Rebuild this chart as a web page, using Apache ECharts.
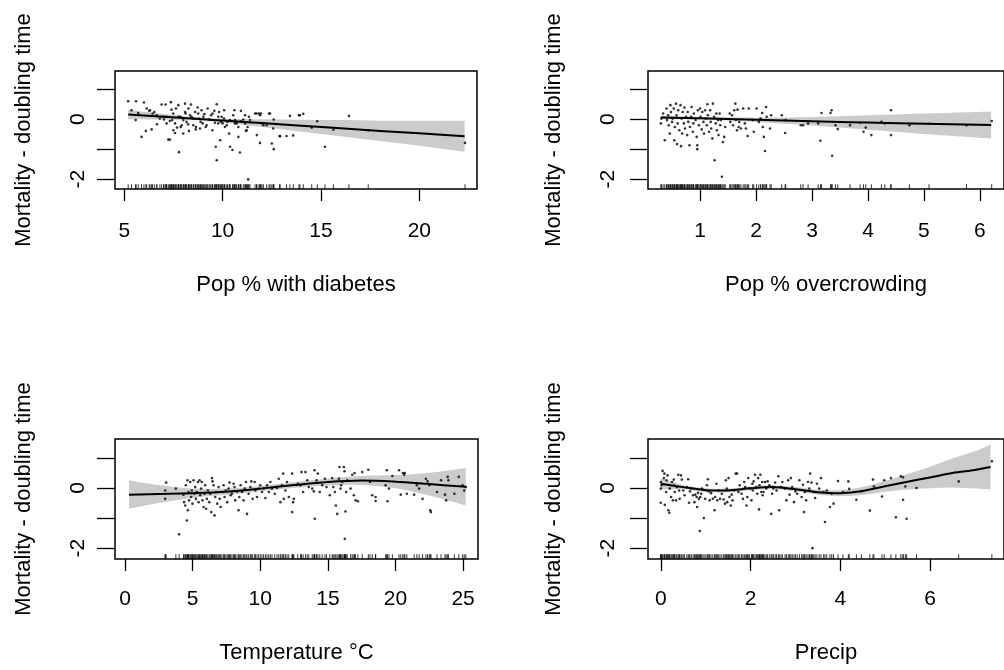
<!DOCTYPE html>
<html><head><meta charset="utf-8">
<script src="https://cdn.jsdelivr.net/npm/echarts@6/dist/echarts.min.js"></script>
<style>html,body{margin:0;padding:0;background:#fff}#c{width:1004px;height:670px}</style>
</head><body><div id="c"></div>
<script>
// ---------- text ----------
const yTitle = 'Mortality - doubling time';
const xTitles = ['Pop % with diabetes', 'Pop % overcrowding', 'Temperature °C', 'Precip'];

// ---------- axes ----------
const xRanges = [[4.53, 22.93], [0.07, 6.43], [-0.74, 26.1], [-0.285, 7.65]];
const yRanges = [[-2.33, 1.61], [-2.33, 1.61], [-2.36, 1.63], [-2.36, 1.63]];
const xTicks = [[5, 10, 15, 20], [1, 2, 3, 4, 5, 6], [0, 5, 10, 15, 20, 25], [0, 2, 4, 6]];
const yTicks = [-2, -1, 0, 1];
const yTickLabels = [-2, 0];

// ---------- partial residuals (x, y) ----------
const diabetesPts = [[5.2,0.6],[5.6,0.6],[6.0,0.56],[5.37,0.3],[5.58,-0.03],[5.88,-0.59],[6.1,-0.39],[6.14,0.36],[6.27,0.28],[6.39,-0.34],[6.53,0.24],[6.66,-0.17],[6.9,0.49],[7.1,0.49],[7.0,0.08],[7.15,-0.14],[7.24,-0.68],[7.32,-0.68],[7.37,0.57],[7.4,0.32],[7.44,-0.03],[7.5,-0.37],[7.58,-0.46],[7.63,0.36],[7.68,-0.28],[7.75,0.47],[7.78,-1.1],[7.85,0.08],[7.92,-0.2],[8.0,-0.48],[8.09,0.52],[8.12,0.19],[8.17,-0.09],[8.26,0.36],[8.29,-0.39],[8.39,0.49],[8.42,0.08],[8.51,-0.2],[8.6,0.24],[8.63,-0.34],[8.73,0.39],[8.8,0.02],[8.85,-0.31],[8.93,0.3],[8.99,-0.14],[9.07,0.17],[9.14,-0.26],[9.24,0.36],[9.31,-0.01],[9.41,0.13],[9.48,-0.37],[9.58,0.28],[9.65,-0.92],[9.7,0.5],[9.7,-1.37],[9.78,-0.14],[9.82,0.24],[9.88,-0.7],[9.95,0.08],[10.0,-0.14],[10.08,0.3],[10.12,-0.26],[10.25,-0.09],[10.33,-0.48],[10.38,-0.92],[10.5,-1.03],[10.6,0.3],[10.63,-0.03],[10.71,-0.14],[10.8,-0.59],[10.88,-1.11],[10.93,0.28],[11.05,-0.01],[11.14,0.13],[11.19,-0.39],[11.27,-0.26],[11.3,-2.01],[11.34,0.08],[11.65,0.19],[11.74,-0.53],[11.85,0.19],[11.95,0.19],[12.0,-0.14],[11.9,-0.79],[12.24,-0.2],[12.36,0.19],[12.5,-0.81],[12.6,-1.0],[12.6,-0.01],[12.9,-0.56],[13.25,-0.56],[13.42,0.11],[13.59,-0.54],[13.88,0.13],[14.1,0.18],[14.53,-0.28],[14.81,-0.07],[15.2,-0.92],[15.63,-0.35],[16.42,0.11],[17.4,-0.37],[22.32,-0.79],
[5.71,0.21],[6.31,0.3],[6.44,0.19],[6.65,0.13],[6.81,0.02],[7.02,-0.01],[7.16,0.08],[7.32,-0.06],[7.49,0.19],[7.58,-0.14],[7.75,0.08],[7.87,-0.26],[8.0,-0.03],[8.09,0.24],[8.25,-0.17],[8.34,0.13],[8.51,0.02],[8.65,-0.26],[8.76,0.19],[8.88,-0.09],[9.02,0.08],[9.19,-0.2],[9.36,-0.01],[9.49,0.19],[9.61,-0.12],[9.78,0.08],[9.92,-0.09],[10.07,0.02],[10.21,-0.2],[10.37,-0.03],[10.54,0.13],[10.63,-0.14],[10.8,-0.26],[10.92,-0.07],[11.14,-0.14],[11.22,-0.37],[11.39,-0.03],[11.73,0.19],[11.9,0.13],[12.07,-0.2],[12.41,0.19],[12.57,-0.31],[12.92,-0.57],[13.93,0.13]];

const crowdPts = [[0.3,-0.14],[0.31,0.02],[0.34,0.19],[0.37,-0.7],[0.4,0.36],[0.41,-0.03],[0.43,0.13],[0.44,-0.2],[0.46,-0.48],[0.47,0.47],[0.48,0.24],[0.5,-0.09],[0.51,0.02],[0.53,0.36],[0.54,-0.7],[0.55,-0.26],[0.57,0.52],[0.58,0.13],[0.59,-0.83],[0.6,-0.14],[0.61,0.3],[0.63,-0.37],[0.65,0.47],[0.66,-0.9],[0.67,0.02],[0.68,-0.48],[0.69,0.24],[0.71,-0.14],[0.72,0.39],[0.73,-0.31],[0.75,0.08],[0.77,-0.53],[0.78,0.24],[0.79,-0.09],[0.81,-0.87],[0.82,-0.26],[0.84,0.08],[0.85,0.41],[0.87,-0.42],[0.88,-0.14],[0.89,0.19],[0.92,-0.03],[0.94,-0.59],[0.95,-0.87],[0.95,-1.0],[0.96,0.3],[0.98,-0.2],[1.0,0.36],[1.01,0.08],[1.03,-0.34],[1.04,0.24],[1.06,-0.09],[1.07,-0.48],[1.09,0.3],[1.1,0.02],[1.12,-0.2],[1.13,0.5],[1.14,0.13],[1.16,-0.42],[1.18,0.3],[1.19,-0.09],[1.2,-0.31],[1.22,-0.64],[1.23,0.52],[1.25,0.08],[1.26,-1.37],[1.28,-0.14],[1.29,0.19],[1.3,-0.37],[1.32,-0.03],[1.33,-0.53],[1.35,0.19],[1.36,-0.2],[1.37,-0.03],[1.39,-1.92],[1.41,-0.76],[1.43,-0.59],[1.45,-0.26],[1.53,0.19],[1.54,-0.09],[1.57,0.13],[1.59,-0.2],[1.61,0.3],[1.63,0.52],[1.64,-0.03],[1.66,-0.37],[1.67,0.32],[1.69,-0.26],[1.7,-0.09],[1.73,-0.31],[1.77,0.36],[1.8,-0.14],[1.82,-0.31],[1.85,-0.56],[1.87,0.36],[1.94,-0.03],[1.96,-0.42],[2.01,0.36],[2.05,-0.09],[2.08,0.02],[2.11,0.21],[2.12,-0.26],[2.14,-0.59],[2.16,-1.06],[2.18,0.41],[2.19,0.08],[2.25,-0.31],[2.27,0.13],[2.46,0.13],[2.52,-0.46],[2.53,-0.03],[2.8,-0.2],[2.84,-0.2],[2.93,-0.14],[3.11,-0.14],[3.15,-0.72],[3.17,0.21],[3.33,0.21],[3.35,0.3],[3.36,-1.22],[3.42,-0.2],[3.46,-0.33],[3.68,-0.2],[3.86,-0.12],[3.92,-0.42],[3.96,-0.28],[4.06,-0.53],[4.24,-0.09],[4.3,-0.14],[4.41,0.3],[4.41,-0.53],[4.74,-0.2],[5.09,-0.15],[5.76,-0.2],[6.21,-0.06]];

const tempPts = [[2.97,-0.08],[2.97,-0.36],[3.04,0.18],[3.76,-0.02],[4.0,-1.54],[4.32,-0.22],[4.37,-0.47],[4.45,-0.58],[4.5,0.09],[4.57,-1.08],[4.62,0.26],[4.65,-0.74],[4.69,-0.13],[4.74,-0.41],[4.82,0.2],[4.89,-0.3],[4.94,-0.08],[4.99,-0.52],[5.07,0.26],[5.12,-0.19],[5.19,0.03],[5.24,-0.36],[5.31,-0.13],[5.39,0.2],[5.44,-0.47],[5.51,0.26],[5.56,-0.24],[5.63,-0.02],[5.68,0.2],[5.73,-0.41],[5.81,-0.63],[5.88,-0.19],[5.93,0.09],[6.0,-0.69],[6.05,-0.36],[6.13,-0.08],[6.23,-0.47],[6.3,-0.19],[6.38,-0.8],[6.42,0.33],[6.47,0.22],[6.55,0.09],[6.62,-0.91],[6.67,-0.3],[6.75,-0.13],[6.82,-0.52],[6.92,0.03],[7.0,-0.36],[7.07,-0.63],[7.17,-0.13],[7.29,0.09],[7.36,-0.3],[7.46,-0.08],[7.56,-0.47],[7.66,-0.02],[7.73,0.18],[7.81,-0.24],[7.91,-0.19],[8.03,0.14],[8.1,0.03],[8.15,-0.41],[8.28,-0.13],[8.4,-0.74],[8.45,-0.3],[8.55,0.09],[8.65,-0.13],[8.77,-0.41],[8.85,-0.02],[8.95,0.2],[9.02,-0.86],[9.14,-0.19],[9.27,0.03],[9.34,0.22],[9.44,-0.36],[9.59,0.2],[9.64,-0.08],[9.76,-0.3],[9.88,-0.02],[10.0,0.09],[10.13,-0.13],[10.25,-0.02],[10.38,-0.33],[10.5,0.09],[10.63,-0.13],[10.75,0.2],[10.87,-0.02],[11.07,-0.19],[11.24,0.0],[11.37,0.31],[11.49,-0.47],[11.61,0.09],[11.69,0.48],[11.74,-0.36],[11.86,-0.08],[11.98,0.2],[12.11,-0.3],[12.36,-0.8],
[12.36,0.48],[12.43,-0.47],[12.48,-0.36],[12.77,0.14],[12.97,0.09],[13.05,0.53],[13.17,-0.13],[13.34,0.53],[13.47,0.26],[13.59,0.03],[13.84,-0.02],[13.96,-0.11],[14.01,0.59],[14.04,-1.02],[14.16,0.26],[14.26,0.48],[14.4,-0.13],[14.58,0.09],[14.78,0.31],[14.9,0.03],[15.14,-0.24],[15.32,0.33],[15.4,0.03],[15.52,-0.13],[15.59,-0.58],[15.69,-0.86],[15.81,0.31],[15.86,0.7],[15.93,-0.02],[15.98,0.09],[16.06,0.2],[16.18,0.7],[16.23,0.56],[16.25,-1.69],[16.3,-0.78],[16.35,-0.13],[16.43,0.26],[16.68,-0.02],[16.8,0.44],[16.92,-0.24],[16.97,0.5],[17.05,-0.41],[17.22,-0.44],[17.54,0.53],[17.99,0.61],[18.11,0.2],[18.28,-0.24],[18.53,-0.3],[18.53,-0.43],[19.27,0.09],[19.35,0.59],[19.4,-0.44],[19.52,-0.02],[19.77,0.4],[20.26,0.59],[20.39,-0.22],[20.54,0.5],[20.64,0.44],[20.69,0.5],[20.84,-0.19],[21.38,-0.22],[21.58,0.09],[21.75,-0.02],[22.0,-0.36],[22.25,0.31],[22.37,0.22],[22.5,0.09],[22.57,-0.74],[22.62,-0.8],[23.07,-0.13],[23.37,0.26],[23.66,-0.22],[23.74,-0.41],[23.86,0.37],[23.91,0.26],[24.35,-0.19],[24.68,0.37],[24.96,0.09],[25.08,-0.08],[25.2,0.03]];

const precipPts = [[0.0,0.2],[0.0,-0.02],[0.0,-0.49],[0.02,0.09],[0.04,0.57],[0.07,0.33],[0.08,0.48],[0.09,-0.56],[0.12,-0.13],[0.13,0.26],[0.15,0.42],[0.17,-0.74],[0.19,-0.82],[0.2,-0.02],[0.23,-0.3],[0.25,0.2],[0.27,-0.41],[0.29,0.28],[0.3,0.09],[0.31,-0.13],[0.34,-0.41],[0.36,0.03],[0.39,0.44],[0.41,-0.08],[0.42,-0.36],[0.45,0.42],[0.47,0.28],[0.5,-0.08],[0.53,-0.24],[0.58,0.03],[0.61,0.29],[0.63,-0.49],[0.65,-0.11],[0.68,-0.02],[0.72,-0.24],[0.75,-0.47],[0.77,-0.22],[0.8,-0.3],[0.81,-0.63],[0.83,-0.16],[0.85,-0.36],[0.87,-1.43],[0.88,-0.3],[0.9,-0.19],[0.92,-0.02],[0.96,-1.0],[0.99,-0.36],[1.03,0.09],[1.05,0.29],[1.07,-0.11],[1.09,-0.41],[1.12,-0.17],[1.16,-0.36],[1.2,-0.74],[1.21,-0.3],[1.24,0.14],[1.26,-0.41],[1.29,-0.08],[1.32,-0.36],[1.36,-0.19],[1.4,-0.38],[1.43,-0.52],[1.45,0.26],[1.47,-0.02],[1.48,-0.47],[1.51,0.33],[1.53,-0.3],[1.56,-0.58],[1.58,-0.22],[1.6,-0.41],[1.63,-0.08],[1.67,0.48],[1.7,0.48],[1.73,-0.13],[1.76,0.09],[1.8,-0.19],[1.83,-0.36],[1.86,0.2],[1.88,0.03],[1.91,-0.58],[1.93,-0.3],[1.95,0.33],[1.98,-0.02],[2.02,-0.41],[2.04,0.14],[2.05,-0.08],[2.07,0.22],[2.1,0.44],[2.13,0.03],[2.15,-0.19],[2.17,0.33],[2.19,-0.71],[2.2,0.09],[2.22,0.44],[2.24,-0.13],[2.26,0.2],[2.27,-0.24],[2.29,-0.13],[2.32,0.2],[2.35,-0.02],[2.38,0.22],[2.42,0.09],[2.46,-0.86],[2.48,-0.19],[2.51,-0.02],[2.55,0.18],[2.58,-0.08],[2.62,0.39],[2.64,-0.74],[2.68,0.03],[2.71,0.2],[2.77,-0.02],[2.8,-0.41],[2.84,0.26],[2.87,-0.22],[2.9,0.33],[2.93,0.03],[2.97,-0.47],[3.0,-0.11],[3.04,-0.19],[3.09,0.26],[3.14,-0.3],[3.17,0.11],[3.19,-0.8],[3.21,-0.13],[3.24,-0.41],[3.28,0.2],[3.31,-0.02],[3.33,0.48],[3.36,0.18],[3.38,-2.0],[3.41,-0.13],[3.44,-0.33],[3.48,0.14],[3.53,-0.02],[3.57,0.33],[3.63,-0.13],[3.66,-1.13],[3.7,-0.08],[3.77,-0.63],[3.81,-0.19],[3.85,-0.52],[3.95,0.23],[4.06,-0.13],[4.18,0.22],[4.2,-0.03],[4.36,-0.39],[4.47,-0.11],[4.66,-0.75],[4.73,0.28],[4.75,0.05],[4.93,-0.28],[4.98,0.26],[5.13,0.33],[5.24,-0.97],[5.35,0.39],[5.4,0.36],[5.4,-0.39],[5.45,0.05],[5.48,-1.02],[5.7,0.0],[6.64,0.22],[7.38,0.89]];

// ---------- smooth fits and standard errors ----------
const diabetesFitX = [5.2, 7, 9, 10, 12, 14, 16, 18, 20, 22.3];
const diabetesFit  = [0.16, 0.083, -0.002, -0.045, -0.13, -0.216, -0.30, -0.39, -0.47, -0.57];
const diabetesSE   = [0.16, 0.094, 0.05, 0.064, 0.13, 0.2, 0.27, 0.34, 0.42, 0.52];

const crowdFitX = [0.3, 1, 2, 3, 4, 5, 6.2];
const crowdFit  = [0.06, 0.03, -0.02, -0.07, -0.11, -0.15, -0.19];
const crowdSE   = [0.06, 0.04, 0.07, 0.14, 0.24, 0.34, 0.45];

const tempFitX = [0.3, 2.5, 5, 7.5, 10, 12.5, 15, 17.5, 20, 22.5, 25.2];
const tempFit  = [-0.22, -0.2, -0.17, -0.12, -0.02, 0.1, 0.2, 0.25, 0.21, 0.13, 0.04];
const tempSE   = [0.47, 0.3, 0.15, 0.1, 0.09, 0.1, 0.12, 0.15, 0.22, 0.38, 0.62];

const precipFitX = [0, 0.5, 1, 1.5, 2, 2.5, 3, 3.5, 4, 4.5, 5, 5.5, 6, 6.5, 7, 7.35];
const precipFit  = [0.14, 0.03, -0.07, -0.08, -0.01, 0.03, -0.04, -0.14, -0.17, -0.1, 0.06, 0.21, 0.35, 0.5, 0.6, 0.7];
const precipSE   = [0.19, 0.07, 0.06, 0.06, 0.06, 0.06, 0.07, 0.08, 0.1, 0.13, 0.18, 0.26, 0.36, 0.48, 0.62, 0.75];

// ---------- build ----------
const panels = [
  {pts: diabetesPts, fx: diabetesFitX, fy: diabetesFit, se: diabetesSE},
  {pts: crowdPts, fx: crowdFitX, fy: crowdFit, se: crowdSE},
  {pts: tempPts, fx: tempFitX, fy: tempFit, se: tempSE},
  {pts: precipPts, fx: precipFitX, fy: precipFit, se: precipSE}
];
const FONT = 'Liberation Sans, Arial, Helvetica, sans-serif';
const grids = [
  {left: 115, top: 71, width: 362, height: 118},
  {left: 648, top: 71, width: 362, height: 118},
  {left: 115, top: 439, width: 363, height: 120},
  {left: 648, top: 439, width: 362, height: 120}
];
const xLabelMargin = [32, 32, 30, 30];
const xNameGap = [85, 85, 83, 83];
const yLabelMargin = [26, 29, 26, 29];
const yNameGap = [80, 83, 80, 83];

// Catmull-Rom curve through already-projected pixel points
function curvePath(pts, startCmd) {
  let d = startCmd + pts[0][0] + ',' + pts[0][1];
  const n = pts.length;
  for (let i = 0; i < n - 1; i++) {
    const p0 = pts[Math.max(i - 1, 0)], p1 = pts[i], p2 = pts[i + 1], p3 = pts[Math.min(i + 2, n - 1)];
    const c1 = [p1[0] + (p2[0] - p0[0]) / 6, p1[1] + (p2[1] - p0[1]) / 6];
    const c2 = [p2[0] - (p3[0] - p1[0]) / 6, p2[1] - (p3[1] - p1[1]) / 6];
    d += ' C' + c1[0] + ',' + c1[1] + ' ' + c2[0] + ',' + c2[1] + ' ' + p2[0] + ',' + p2[1];
  }
  return d;
}

const xAxes = [], yAxes = [], series = [];
panels.forEach((p, i) => {
  xAxes.push({
    type: 'value', gridIndex: i, min: xRanges[i][0], max: xRanges[i][1],
    axisLine: {show: false, onZero: false}, splitLine: {show: false},
    axisTick: {show: true, length: 12, customValues: xTicks[i], lineStyle: {color: '#000', width: 1.3}},
    axisLabel: {customValues: xTicks[i], margin: xLabelMargin[i], fontSize: 21, color: '#000', fontFamily: FONT},
    name: xTitles[i], nameLocation: 'middle', nameGap: xNameGap[i],
    nameTextStyle: {fontSize: 22, color: '#000', fontFamily: FONT}
  });
  yAxes.push({
    type: 'value', gridIndex: i, min: yRanges[i][0], max: yRanges[i][1],
    axisLine: {show: false, onZero: false}, splitLine: {show: false},
    axisTick: {show: true, length: 18, customValues: yTicks, lineStyle: {color: '#000', width: 1.3}},
    axisLabel: {customValues: yTickLabels, rotate: 90, margin: yLabelMargin[i], fontSize: 21, color: '#000', fontFamily: FONT},
    name: yTitle, nameLocation: 'middle', nameGap: yNameGap[i], nameRotate: 90,
    nameTextStyle: {fontSize: 22, color: '#000', fontFamily: FONT}
  });
  // confidence band
  series.push({
    type: 'custom', xAxisIndex: i, yAxisIndex: i, data: [[p.fx[0], p.fy[0]]], silent: true, z: 1,
    renderItem: function (params, api) {
      const up = p.fx.map((x, k) => api.coord([x, p.fy[k] + p.se[k]]));
      const dn = p.fx.map((x, k) => api.coord([x, p.fy[k] - p.se[k]])).reverse();
      const d = curvePath(up, 'M') + ' ' + curvePath(dn, 'L') + ' Z';
      return {type: 'path', shape: {pathData: d}, style: {fill: '#cbcbcb', stroke: null}};
    }
  });
  // residual points
  series.push({
    type: 'scatter', xAxisIndex: i, yAxisIndex: i, data: p.pts,
    symbol: 'circle', symbolSize: 2.6, itemStyle: {color: '#000'}, silent: true, z: 3
  });
  // fitted smooth
  series.push({
    type: 'custom', xAxisIndex: i, yAxisIndex: i, data: [[p.fx[0], p.fy[0]]], silent: true, z: 4,
    renderItem: function (params, api) {
      const pts = p.fx.map((x, k) => api.coord([x, p.fy[k]]));
      return {type: 'path', shape: {pathData: curvePath(pts, 'M')}, style: {fill: null, stroke: '#000', lineWidth: 2}};
    }
  });
  // rug along the bottom edge
  series.push({
    type: 'scatter', xAxisIndex: i, yAxisIndex: i, data: p.pts.map(d => [d[0], yRanges[i][0]]),
    symbol: 'rect', symbolSize: [1, 4.5], symbolOffset: [0, -2.5], itemStyle: {color: '#000'}, silent: true, z: 2
  });
});

const chart = echarts.init(document.getElementById('c'), null, {renderer: 'canvas'});
chart.setOption({
  animation: false,
  backgroundColor: '#fff',
  grid: grids.map(g => Object.assign({show: true, borderColor: '#000', borderWidth: 1.5, backgroundColor: 'transparent'}, g)),
  xAxis: xAxes, yAxis: yAxes, series: series
});
</script></body></html>
